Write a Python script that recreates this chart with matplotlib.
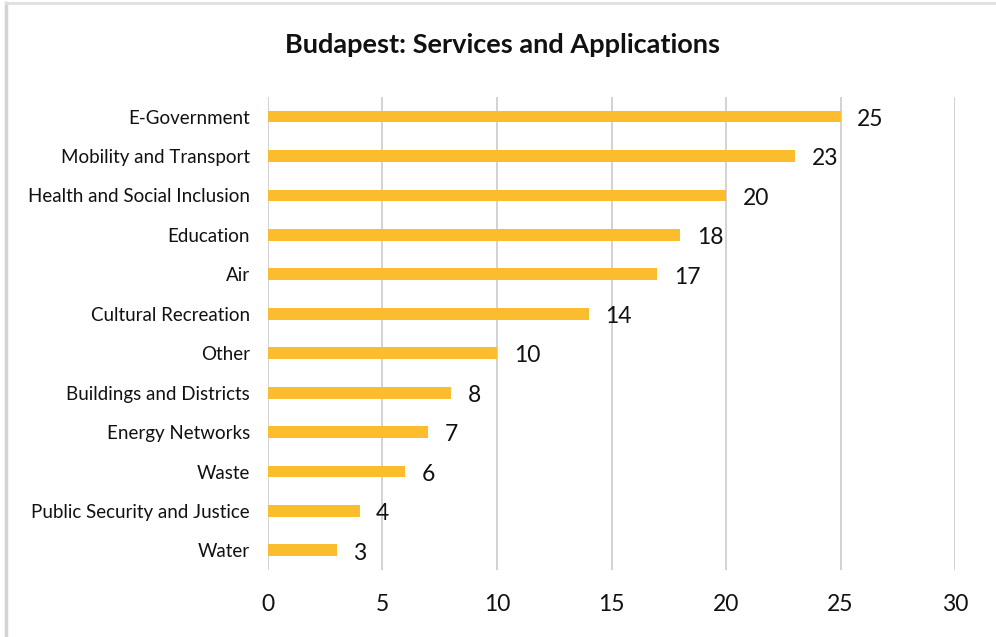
#!/usr/bin/env python3
# -*- coding: utf-8 -*-

import matplotlib.pyplot as plt
from matplotlib.lines import Line2D

plt.rcParams['font.family'] = ['Lato', 'DejaVu Sans']

categories = ['E-Government', 'Mobility and Transport', 'Health and Social Inclusion',
              'Education', 'Air', 'Cultural Recreation', 'Other',
              'Buildings and Districts', 'Energy Networks', 'Waste',
              'Public Security and Justice', 'Water']
values = [25, 23, 20, 18, 17, 14, 10, 8, 7, 6, 4, 3]
x_ticks = [0, 5, 10, 15, 20, 25, 30]


def draw_chart():
    fig = plt.figure(figsize=(9.96, 6.37), dpi=100)
    ax = fig.add_axes([0.269, 0.105, 0.690, 0.743])

    pos = list(range(len(categories)))
    ax.barh(pos, values, height=0.3, color='#FBBC2E', zorder=3)
    for p, v in zip(pos, values):
        ax.annotate(str(v), (v, p), xytext=(12, -2), textcoords='offset points',
                    ha='left', va='center', fontsize=16.5, color='#111111')

    ax.set_ylim(len(categories) - 0.5, -0.5)
    ax.set_xlim(0, 30)
    ax.set_yticks(pos)
    ax.set_yticklabels(categories, fontsize=13.5, color='#111111')
    ax.set_xticks(x_ticks)
    ax.set_xticklabels([str(t) for t in x_ticks], fontsize=16.5, color='#111111')
    ax.tick_params(length=0)
    ax.tick_params(axis='x', pad=17)
    ax.tick_params(axis='y', pad=13)
    ax.grid(axis='x', color='#d2d2d2', linewidth=1.4, zorder=0)
    for s in ax.spines.values():
        s.set_visible(False)

    fig.suptitle('Budapest: Services and Applications', x=0.505, y=0.948,
                 fontsize=19.5, fontweight='bold', color='#111111')

    # thin frame on left and top edge, as in the screenshot
    fig.add_artist(Line2D([0.0065, 0.0065], [0, 0.995], color='#d4d4d4', lw=2.5,
                          transform=fig.transFigure))
    fig.add_artist(Line2D([0.0065, 1], [0.995, 0.995], color='#e0e0e0', lw=2,
                          transform=fig.transFigure))

    fig.savefig('out.png', dpi=100)


def main():
    draw_chart()


if __name__ == '__main__':
    main()
